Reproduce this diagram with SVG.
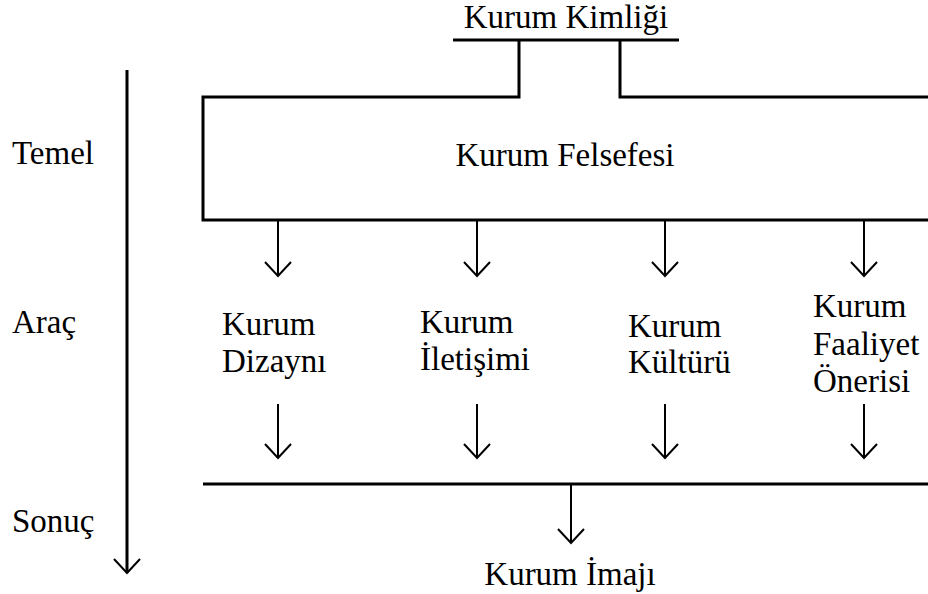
<svg xmlns="http://www.w3.org/2000/svg" width="928" height="594" viewBox="0 0 928 594">
<style>
text{font-family:"Liberation Serif","Times New Roman",serif;font-size:33px;fill:#000}
.ln{stroke:#000;stroke-width:3;fill:none}
.ar{stroke:#000;stroke-width:2;fill:none}
</style>
<rect width="928" height="594" fill="#fff"/>
<g id="kurum-kimligi">
<text x="566" y="28" text-anchor="middle">Kurum Kimliği</text>
</g>
<g id="kurum-felsefesi">
<path class="ln" d="M519,40 V97 H203 V220 H928 M620,40 V97 H928"/>
<text x="565" y="166" text-anchor="middle">Kurum Felsefesi</text>
</g>
<g id="temel"><text x="12" y="164">Temel</text></g>
<g id="arac"><text x="12" y="333">Araç</text></g>
<g id="sonuc"><text x="12" y="532">Sonuç</text></g>
<g id="kurum-dizayni">
<text x="222" y="335">Kurum</text>
<text x="222" y="372">Dizaynı</text>
</g>
<g id="kurum-iletisimi">
<text x="420" y="333">Kurum</text>
<text x="420" y="370">İletişimi</text>
</g>
<g id="kurum-kulturu">
<text x="628" y="337">Kurum</text>
<text x="628" y="373">Kültürü</text>
</g>
<g id="kurum-faaliyet-onerisi">
<text x="813" y="317">Kurum</text>
<text x="813" y="355">Faaliyet</text>
<text x="813" y="392">Önerisi</text>
</g>
<g id="kurum-imaji">
<path class="ln" d="M203,484 H928"/>
<text x="570" y="585" text-anchor="middle">Kurum İmajı</text>
</g>
<g id="connectors">
<path class="ln" d="M453,40 H679"/>
<path class="ln" d="M127,70 V573"/>
<path class="ar" d="M114,559 L127,573 L140,559"/>
<path class="ar" d="M278,220 V276 M265,262 L278,276 L291,262"/>
<path class="ar" d="M477,220 V276 M464,262 L477,276 L490,262"/>
<path class="ar" d="M665,220 V276 M652,262 L665,276 L678,262"/>
<path class="ar" d="M864,220 V276 M851,262 L864,276 L877,262"/>
<path class="ar" d="M278,404 V458 M265,444 L278,458 L291,444"/>
<path class="ar" d="M477,404 V458 M464,444 L477,458 L490,444"/>
<path class="ar" d="M665,404 V458 M652,444 L665,458 L678,444"/>
<path class="ar" d="M864,404 V458 M851,444 L864,458 L877,444"/>
<path class="ar" d="M571,484 V543 M558,529 L571,543 L584,529"/>
</g>
</svg>
